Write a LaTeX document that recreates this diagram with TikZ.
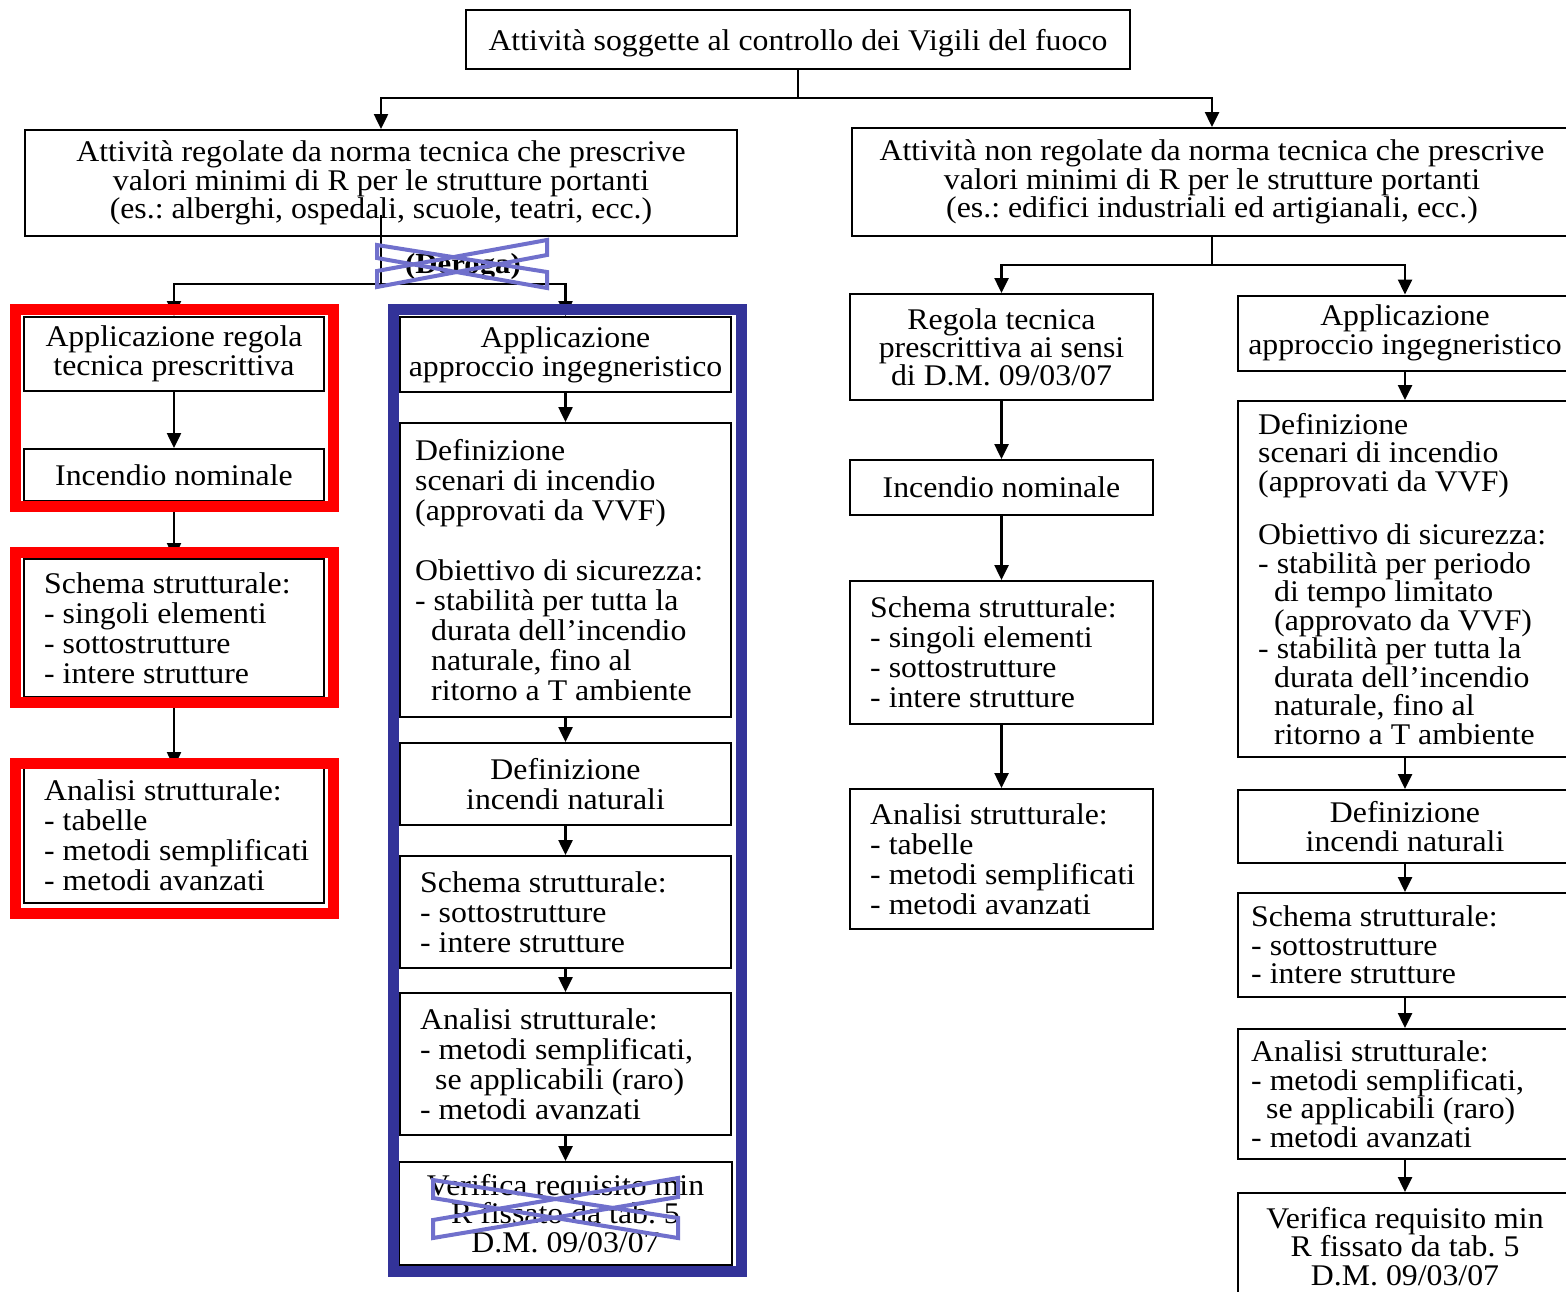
\documentclass[tikz,border=0pt]{standalone}
\usepackage{fontspec}
\setmainfont{Liberation Serif}[FakeStretch=1.06]
\usetikzlibrary{arrows.meta}
\definecolor{framered}{RGB}{255,0,0}
\definecolor{frameblue}{RGB}{51,51,153}
\definecolor{crossmark}{RGB}{112,112,204}
\frenchspacing

\begin{document}
\begin{tikzpicture}[x=1pt,y=-1pt,
  every node/.style={font=\fontsize{30}{30}\selectfont},
  frame/.style 2 args={draw=black, line width=2pt, inner sep=0pt, align=center,
    minimum width=#1, minimum height=#2},
  body/.style={anchor=west, align=left, inner sep=0pt},
  tight/.style={font=\fontsize{30}{28.5}\selectfont},
  link/.style={draw=black, line width=2.5pt},
  flow/.style={link, -{Triangle[length=15pt,width=14pt]}},
  redframe/.style={draw=framered, line width=11pt},
  blueframe/.style={draw=frameblue, line width=11pt},
  strike/.style={draw=crossmark, line width=4pt, line join=miter}]

\useasboundingbox (0,0) rectangle (1566,1291);
\fill[white] (0,0) rectangle (1566,1291);

% ---- top level ----
\node[frame={664}{59}, text height=27pt, text depth=6pt] (top) at (798,39.5) {Attività soggette al controllo dei Vigili del fuoco};
\node[frame={712}{106}, tight] (lbig) at (381,183)
  {Attività regolate da norma tecnica che prescrive\\valori minimi di R per le strutture portanti\\(es.: alberghi, ospedali, scuole, teatri, ecc.)};
\node[frame={720}{108}, tight] (rbig) at (1212,182)
  {Attività non regolate da norma tecnica che prescrive\\valori minimi di R per le strutture portanti\\(es.: edifici industriali ed artigianali, ecc.)};

% ---- prescriptive branch ----
\node[frame={300}{74}, font=\fontsize{30}{29}\selectfont] (L1) at (174,354) {Applicazione regola\\tecnica prescrittiva};
\node[frame={300}{52}] (L2) at (174,475) {Incendio nominale};
\node[frame={300}{138}] (L3) at (174,628) {};
\node[body] (L3t) at ([xshift=21]L3.west) {Schema strutturale:\\- singoli elementi\\- sottostrutture\\- intere strutture};
\node[frame={300}{135}] (L4) at (174,835.5) {};
\node[body] (L4t) at ([xshift=21]L4.west) {Analisi strutturale:\\- tabelle\\- metodi semplificati\\- metodi avanzati};

% ---- engineering branch (derogation) ----
\node[frame={331}{75}, font=\fontsize{30}{29}\selectfont] (B1) at (565.5,354.5) {Applicazione\\approccio ingegneristico};
\node[frame={331}{294}] (B2) at (565.5,570) {};
\node[body] (B2t) at ([xshift=16]B2.west) {Definizione\\scenari di incendio\\(approvati da VVF)\\[30pt]Obiettivo di sicurezza:\\- stabilità per tutta la\\\hspace*{16pt}durata dell’incendio\\\hspace*{16pt}naturale, fino al\\\hspace*{16pt}ritorno a T ambiente};
\node[frame={331}{82}] (B3) at (565.5,784) {Definizione\\incendi naturali};
\node[frame={331}{112}] (B4) at (565.5,912) {};
\node[body] (B4t) at ([xshift=21]B4.west) {Schema strutturale:\\- sottostrutture\\- intere strutture};
\node[frame={331}{142}] (B5) at (565.5,1064) {};
\node[body] (B5t) at ([xshift=21]B5.west) {Analisi strutturale:\\- metodi semplificati,\\\hspace*{15pt}se applicabili (raro)\\- metodi avanzati};
\node[frame={333}{103}, tight] (B6) at (565.5,1213.5) {Verifica requisito min\\R fissato da tab. 5\\D.M. 09/03/07};

% ---- activities without a technical rule: prescriptive ----
\node[frame={303}{106}, font=\fontsize{30}{28}\selectfont] (R1) at (1001.5,347) {Regola tecnica\\prescrittiva ai sensi\\di D.M. 09/03/07};
\node[frame={303}{55}] (R2) at (1001.5,487.5) {Incendio nominale};
\node[frame={303}{143}] (R3) at (1001.5,652.5) {};
\node[body] (R3t) at ([xshift=21]R3.west) {Schema strutturale:\\- singoli elementi\\- sottostrutture\\- intere strutture};
\node[frame={303}{140}] (R4) at (1001.5,859) {};
\node[body] (R4t) at ([xshift=21]R4.west) {Analisi strutturale:\\- tabelle\\- metodi semplificati\\- metodi avanzati};

% ---- activities without a technical rule: engineering ----
\node[frame={334}{75}, tight] (S1) at (1405,333) {Applicazione\\approccio ingegneristico};
\node[frame={334}{356}] (S2) at (1405,579) {};
\node[body, tight] (S2t) at ([xshift=21]S2.west) {Definizione\\scenari di incendio\\(approvati da VVF)\\[25pt]Obiettivo di sicurezza:\\- stabilità per periodo\\\hspace*{16pt}di tempo limitato\\\hspace*{16pt}(approvato da VVF)\\- stabilità per tutta la\\\hspace*{16pt}durata dell’incendio\\\hspace*{16pt}naturale, fino al\\\hspace*{16pt}ritorno a T ambiente};
\node[frame={334}{73}, tight] (S3) at (1405,826.5) {Definizione\\incendi naturali};
\node[frame={334}{104}] (S4) at (1405,945) {};
\node[body, tight] (S4t) at ([xshift=14]S4.west) {Schema strutturale:\\- sottostrutture\\- intere strutture};
\node[frame={334}{130}] (S5) at (1405,1094) {};
\node[body, tight] (S5t) at ([xshift=14]S5.west) {Analisi strutturale:\\- metodi semplificati,\\\hspace*{15pt}se applicabili (raro)\\- metodi avanzati};
\node[frame={334}{107}, tight] (S6) at (1405,1246.5) {Verifica requisito min\\R fissato da tab. 5\\D.M. 09/03/07};

% ---- connectors ----
\coordinate (j0) at (798,98);
\draw[link] (top.south) -- (j0);
\draw[flow] (j0) -| (lbig.north);
\draw[flow] (j0) -| (rbig.north);

\coordinate (lstem) at (381,215);
\coordinate (j1) at (381,284);
\draw[link] (lstem) -- (j1);
\draw[flow] (j1) -| (L1.north);
\draw[flow] (j1) -| (B1.north);
\node[font=\bfseries\fontsize{29}{29}\selectfont, inner sep=0pt] (deroga) at (463,267) {(Deroga)};

\coordinate (j2) at (1212,265);
\draw[link] (rbig.south) -- (j2);
\draw[flow] (j2) -| (R1.north);
\draw[flow] (j2) -| (S1.north);

\draw[flow] (L1) -- (L2);
\draw[flow] (L2) -- (L3);
\draw[flow] (L3) -- (L4);

\draw[flow] (B1) -- (B2);
\draw[flow] (B2) -- (B3);
\draw[flow] (B3) -- (B4);
\draw[flow] (B4) -- (B5);
\draw[flow] (B5) -- (B6);

\draw[flow] (R1) -- (R2);
\draw[flow] (R2) -- (R3);
\draw[flow] (R3) -- (R4);

\draw[flow] (S1) -- (S2);
\draw[flow] (S2) -- (S3);
\draw[flow] (S3) -- (S4);
\draw[flow] (S4) -- (S5);
\draw[flow] (S5) -- (S6);

% ---- highlight frames ----
\draw[redframe] (15.5,309.5) rectangle (333,506.5);
\draw[redframe] (15.5,552) rectangle (333,702.5);
\draw[redframe] (15.5,763.5) rectangle (333,913.5);
\draw[blueframe] (393.5,309.5) rectangle (741.5,1271.5);

% ---- crossed-out marks ----
\draw[strike] (377,245) -- (547,272) -- (547,288) -- (377,258) -- cycle;
\draw[strike] (377,271) -- (547,240) -- (547,255) -- (377,287) -- cycle;
\draw[strike] (433,1180) -- (678,1218) -- (678,1238) -- (433,1198) -- cycle;
\draw[strike] (433,1220) -- (678,1178) -- (678,1197) -- (433,1238) -- cycle;

\end{tikzpicture}
\end{document}
